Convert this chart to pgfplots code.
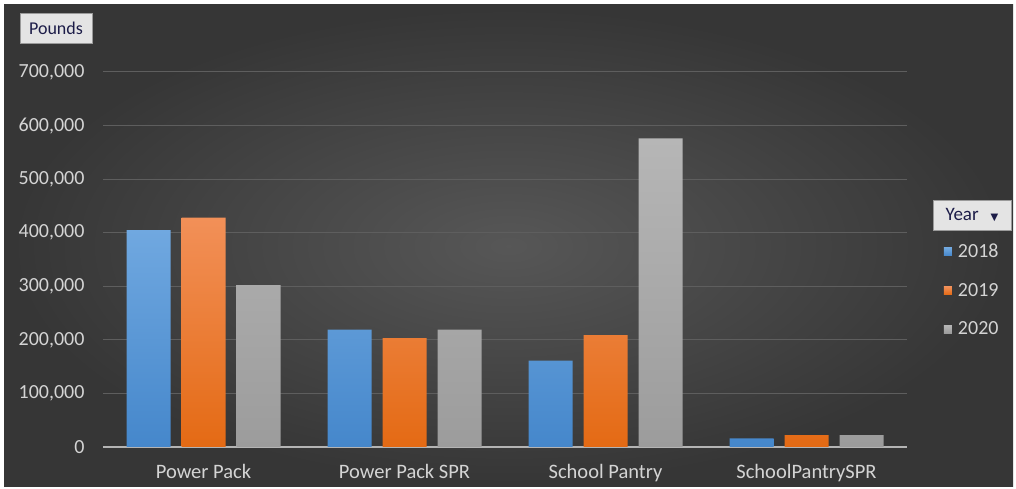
\documentclass[border=0pt]{standalone}
\usepackage{pgfplots}
\pgfplotsset{compat=1.18}
\usepackage{fontspec}
\setmainfont{Carlito}
\newfontfamily\dejavu{DejaVu Sans}
\definecolor{lbl}{HTML}{D4D4D4}
\definecolor{gridc}{HTML}{5E5E5E}
\definecolor{basec}{HTML}{B4B4B4}
\definecolor{bluet}{HTML}{70A8E0}
\definecolor{blueb}{HTML}{4587CB}
\definecolor{oranget}{HTML}{F29058}
\definecolor{orangeb}{HTML}{E46A14}
\definecolor{grayt}{HTML}{B6B6B6}
\definecolor{grayb}{HTML}{9C9C9C}
\definecolor{btnfill}{HTML}{E4E4E4}
\definecolor{btnedge}{HTML}{9A9A9A}
\definecolor{btntext}{HTML}{1C1C48}
\begin{document}
\begin{tikzpicture}[x=1pt,y=1pt]
\fill[white] (0,0) rectangle (1016,489);
\shade[inner color=black!66, outer color=black!79] (4,2) rectangle (1013,484);
\node[draw=btnedge, fill=btnfill, text=btntext, minimum width=72pt, minimum height=30pt, inner sep=0pt, font=\fontsize{18}{20}\selectfont] at (56,461) {Pounds};
\node[draw=btnedge, fill=btnfill, text=btntext, minimum width=78pt, minimum height=30pt, inner sep=0pt, font=\fontsize{19}{20}\selectfont] at (972,274) {Year\hspace{12pt}{\dejavu\fontsize{10}{12}\selectfont ▼}};
\begin{axis}[
  at={(103pt,42pt)}, anchor=south west,
  scale only axis, width=804pt, height=375pt,
  xmin=-0.5, xmax=3.5, ymin=0, ymax=700000,
  ybar=11pt, bar width=44pt,
  axis x line*=bottom, axis y line*=left,
  x axis line style={basec, line width=1.5pt, -},
  y axis line style={draw=none},
  ymajorgrids, grid style={gridc, line width=1pt},
  ytick={0,100000,200000,300000,400000,500000,600000,700000},
  scaled y ticks=false,
  /pgf/number format/fixed,
  /pgf/number format/1000 sep={,},
  /pgf/number format/assume math mode=true,
  yticklabel style={text=lbl, font=\fontsize{20}{22}\selectfont, xshift=-15pt},
  xtick={0,1,2,3},
  xticklabels={Power Pack, Power Pack SPR, School Pantry, SchoolPantrySPR},
  xticklabel style={text=lbl, font=\fontsize{20.5}{22}\selectfont, yshift=-14pt},
  major tick length=0pt,
  legend image code/.code={\fill[#1] (0pt,-4pt) rectangle (8pt,4pt);},
  legend style={at={(1.042,0.552)}, anchor=north west, draw=none, fill=none, text=lbl,
    font=\fontsize{20}{22}\selectfont, row sep=20pt,
    /tikz/every odd column/.append style={column sep=4pt}},
  legend cell align=left,
]
\addplot[draw=none, top color=bluet, bottom color=blueb] coordinates {(0,405000) (1,219000) (2,161000) (3,16000)};
\addplot[draw=none, top color=oranget, bottom color=orangeb] coordinates {(0,428000) (1,203000) (2,209000) (3,22000)};
\addplot[draw=none, top color=grayt, bottom color=grayb] coordinates {(0,302000) (1,219000) (2,576000) (3,22000)};
\legend{2018,2019,2020}
\end{axis}
\end{tikzpicture}
\end{document}
